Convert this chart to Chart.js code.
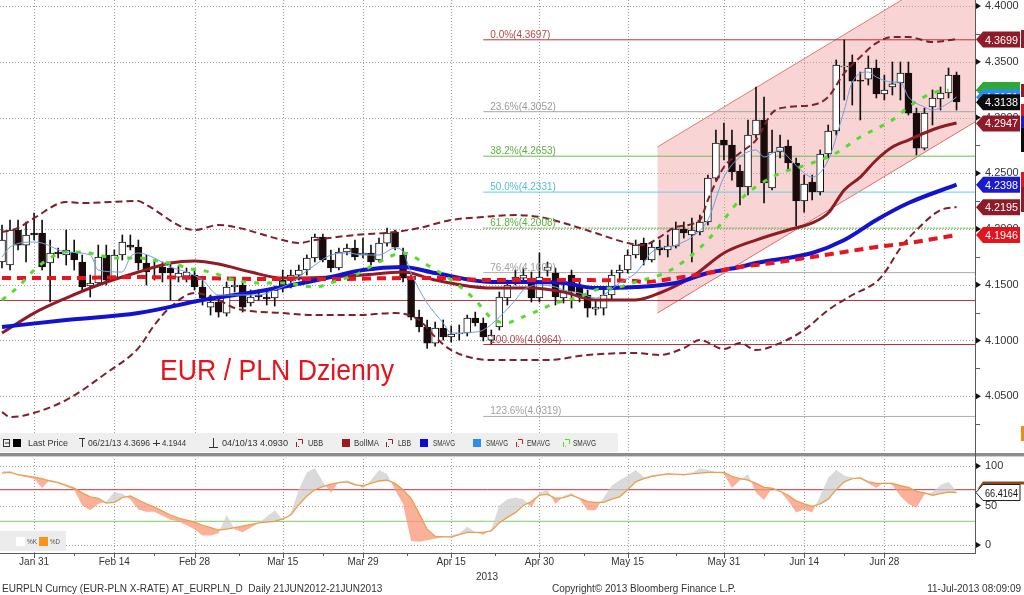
<!DOCTYPE html>
<html>
<head>
<meta charset="utf-8">
<script src="https://cdn.jsdelivr.net/npm/chart.js@4.4.1/dist/chart.umd.min.js"></script>
<style>
  html, body { margin: 0; padding: 0; background: #fff; }
  #wrap { width: 1024px; height: 595px; }
</style>
</head>
<body>
<div id="wrap"><canvas id="chart" width="1024" height="595"></canvas></div>
<script>
// EUR/PLN daily, Jan 25 - Jul 11 2013
const dateTickIdx = [4, 14, 24, 35, 45, 56, 67, 78, 90, 100, 110];
const dateTickLabels = ['Jan 31', 'Feb 14', 'Feb 28', 'Mar 15', 'Mar 29', 'Apr 15', 'Apr 30', 'May 15', 'May 31', 'Jun 14', 'Jun 28'];
const priceTicks = [4.05, 4.10, 4.15, 4.20, 4.25, 4.30, 4.35, 4.40];
const stochTicks = [0, 50, 100];

const opens = [
  4.1704, 4.1677, 4.1991, 4.1856, 4.1964, 4.1964, 4.1695, 4.1794, 4.1767, 4.1794,
  4.1704, 4.1489, 4.1516, 4.1767, 4.1569, 4.1767, 4.1856, 4.1838, 4.1695, 4.1650,
  4.1659, 4.1650, 4.1569, 4.1578, 4.1587, 4.1480, 4.1300, 4.1345, 4.1246, 4.1480,
  4.1498, 4.1336, 4.1408, 4.1390, 4.1381, 4.1542, 4.1542, 4.1587, 4.1632, 4.1740,
  4.1928, 4.1722, 4.1650, 4.1794, 4.1829, 4.1767, 4.1785, 4.1722, 4.1874, 4.1973,
  4.1767, 4.1560, 4.1210, 4.1121, 4.0977, 4.1112, 4.1031, 4.1058, 4.1067, 4.1202,
  4.1157, 4.1004, 4.1121, 4.1381, 4.1542, 4.1560, 4.1560, 4.1381, 4.1623, 4.1605,
  4.1381, 4.1587, 4.1480, 4.1408, 4.1282, 4.1291, 4.1408, 4.1605, 4.1632, 4.1767,
  4.1874, 4.1722, 4.1838, 4.1812, 4.1847, 4.2000, 4.1946, 4.1973, 4.2063, 4.2457,
  4.2798, 4.2753, 4.2520, 4.2377, 4.2843, 4.2978, 4.2368, 4.2691, 4.2744, 4.2592,
  4.2251, 4.2422, 4.2332, 4.2673, 4.2879, 4.3453, 4.3498, 4.3336, 4.3345, 4.3444,
  4.3211, 4.3274, 4.3310, 4.3399, 4.3040, 4.2726, 4.3094, 4.3166, 4.3220, 4.3381
];
const highs = [
  4.2036, 4.2081, 4.2081, 4.2063, 4.2143, 4.2081, 4.1901, 4.1829, 4.1991, 4.1901,
  4.1767, 4.1587, 4.1856, 4.1856, 4.1812, 4.1946, 4.1946, 4.1901, 4.1767, 4.1722,
  4.1704, 4.1704, 4.1668, 4.1650, 4.1632, 4.1542, 4.1408, 4.1399, 4.1525, 4.1542,
  4.1516, 4.1453, 4.1453, 4.1435, 4.1489, 4.1632, 4.1632, 4.1677, 4.1767, 4.1955,
  4.1955, 4.1812, 4.1829, 4.1865, 4.1901, 4.1919, 4.1856, 4.1919, 4.2009, 4.1991,
  4.1829, 4.1587, 4.1273, 4.1184, 4.1166, 4.1184, 4.1130, 4.1139, 4.1228, 4.1255,
  4.1202, 4.1094, 4.1435, 4.1542, 4.1632, 4.1650, 4.1614, 4.1785, 4.1704, 4.1650,
  4.1498, 4.1632, 4.1525, 4.1453, 4.1363, 4.1453, 4.1632, 4.1677, 4.1812, 4.1901,
  4.1919, 4.1883, 4.1901, 4.1946, 4.2063, 4.2063, 4.2098, 4.2125, 4.2484, 4.2888,
  4.2951, 4.2888, 4.2574, 4.2978, 4.3274, 4.3184, 4.2888, 4.2843, 4.2798, 4.2637,
  4.2484, 4.2484, 4.2709, 4.2933, 4.3516, 4.3696, 4.3561, 4.3408, 4.3552, 4.3516,
  4.3381, 4.3498, 4.3498, 4.3498, 4.3085, 4.3085, 4.3247, 4.3274, 4.3444, 4.3408
];
const lows = [
  4.1650, 4.1632, 4.1812, 4.1704, 4.1901, 4.1632, 4.1345, 4.1740, 4.1677, 4.1632,
  4.1453, 4.1390, 4.1498, 4.1498, 4.1542, 4.1722, 4.1812, 4.1632, 4.1498, 4.1542,
  4.1525, 4.1363, 4.1525, 4.1525, 4.1453, 4.1318, 4.1228, 4.1210, 4.1219, 4.1435,
  4.1255, 4.1309, 4.1363, 4.1318, 4.1309, 4.1435, 4.1471, 4.1542, 4.1587, 4.1704,
  4.1704, 4.1614, 4.1632, 4.1767, 4.1722, 4.1740, 4.1677, 4.1704, 4.1847, 4.1812,
  4.1525, 4.1184, 4.1076, 4.0930, 4.0950, 4.1004, 4.0986, 4.1004, 4.1040, 4.1130,
  4.0995, 4.0968, 4.1094, 4.1318, 4.1498, 4.1525, 4.1345, 4.1345, 4.1578, 4.1318,
  4.1336, 4.1291, 4.1345, 4.1210, 4.1228, 4.1228, 4.1363, 4.1525, 4.1605, 4.1740,
  4.1677, 4.1704, 4.1767, 4.1749, 4.1829, 4.1919, 4.1704, 4.1946, 4.2036, 4.2439,
  4.2619, 4.2439, 4.2215, 4.2305, 4.2816, 4.2233, 4.2350, 4.2637, 4.2529, 4.2027,
  4.2152, 4.2260, 4.2305, 4.2637, 4.2843, 4.3157, 4.3112, 4.2978, 4.3292, 4.3175,
  4.3157, 4.3202, 4.3157, 4.3022, 4.2664, 4.2709, 4.2933, 4.3067, 4.3175, 4.3067
];
const closes = [
  4.1901, 4.1991, 4.1856, 4.1946, 4.1946, 4.1659, 4.1785, 4.1776, 4.1812, 4.1722,
  4.1480, 4.1516, 4.1749, 4.1542, 4.1767, 4.1883, 4.1838, 4.1695, 4.1614, 4.1659,
  4.1605, 4.1605, 4.1605, 4.1614, 4.1480, 4.1381, 4.1345, 4.1255, 4.1480, 4.1498,
  4.1300, 4.1390, 4.1390, 4.1372, 4.1453, 4.1471, 4.1587, 4.1632, 4.1740, 4.1928,
  4.1722, 4.1650, 4.1794, 4.1829, 4.1749, 4.1785, 4.1704, 4.1874, 4.1964, 4.1838,
  4.1560, 4.1210, 4.1121, 4.0977, 4.1112, 4.1031, 4.1058, 4.1067, 4.1202, 4.1157,
  4.1031, 4.1049, 4.1390, 4.1498, 4.1569, 4.1587, 4.1381, 4.1569, 4.1659, 4.1390,
  4.1435, 4.1435, 4.1390, 4.1291, 4.1300, 4.1408, 4.1587, 4.1632, 4.1767, 4.1856,
  4.1722, 4.1838, 4.1812, 4.1847, 4.2000, 4.1964, 4.1991, 4.2063, 4.2457, 4.2771,
  4.2753, 4.2511, 4.2377, 4.2843, 4.2978, 4.2413, 4.2691, 4.2735, 4.2592, 4.2251,
  4.2404, 4.2332, 4.2673, 4.2879, 4.3471, 4.3462, 4.3327, 4.3327, 4.3444, 4.3211,
  4.3247, 4.3301, 4.3399, 4.3040, 4.2726, 4.3040, 4.3175, 4.3220, 4.3381, 4.3139
];

// indicators (sparse readings: day index -> value)
const ubbIdx = [0, 2, 4, 8, 10, 17, 18, 24, 27, 29, 35, 37, 39, 44, 49, 52, 56, 60, 64, 67, 70, 74, 78, 80, 82, 84, 87, 88, 90, 92, 94, 96, 98, 101, 103, 105, 107, 109, 111, 113, 116, 119];
const ubbVal = [4.1973, 4.2009, 4.2098, 4.2242, 4.2233, 4.2251, 4.2215, 4.1991, 4.2036, 4.2018, 4.1901, 4.1874, 4.1901, 4.1946, 4.1973, 4.2009, 4.2081, 4.2108, 4.2125, 4.2108, 4.2054, 4.1964, 4.1874, 4.1856, 4.1928, 4.2018, 4.2081, 4.2260, 4.2556, 4.2682, 4.2798, 4.3040, 4.3094, 4.3112, 4.3184, 4.3399, 4.3543, 4.3668, 4.3722, 4.3722, 4.3677, 4.3704];
const lbbIdx = [0, 1, 3, 8, 13, 17, 19, 21, 24, 27, 29, 35, 39, 44, 49, 52, 54, 56, 61, 68, 73, 79, 82, 85, 87, 90, 92, 94, 97, 100, 103, 106, 109, 110, 112, 114, 117, 119];
const lbbVal = [4.0358, 4.0314, 4.0331, 4.0466, 4.0708, 4.0932, 4.1139, 4.1300, 4.1426, 4.1363, 4.1291, 4.1246, 4.1228, 4.1228, 4.1246, 4.1184, 4.1031, 4.0914, 4.0825, 4.0825, 4.0870, 4.0888, 4.0870, 4.0932, 4.1004, 4.0923, 4.0977, 4.0914, 4.0977, 4.1094, 4.1273, 4.1408, 4.1525, 4.1605, 4.1829, 4.1991, 4.2170, 4.2197];
const bollIdx = [0, 4, 8, 12, 17, 21, 24, 27, 31, 35, 37, 41, 45, 50, 54, 61, 66, 70, 74, 79, 82, 86, 90, 94, 98, 101, 103, 105, 107, 109, 111, 113, 115, 117, 119];
const bollVal = [4.1067, 4.1246, 4.1381, 4.1498, 4.1614, 4.1695, 4.1713, 4.1686, 4.1614, 4.1560, 4.1560, 4.1569, 4.1587, 4.1614, 4.1542, 4.1471, 4.1471, 4.1435, 4.1363, 4.1363, 4.1426, 4.1569, 4.1785, 4.1901, 4.1991, 4.2054, 4.2143, 4.2350, 4.2466, 4.2619, 4.2735, 4.2798, 4.2861, 4.2915, 4.2951];
const smaSlowIdx = [0, 8, 17, 25, 33, 41, 45, 50, 54, 61, 66, 70, 74, 79, 84, 88, 92, 94, 101, 105, 109, 113, 119];
const smaSlowVal = [4.1121, 4.1184, 4.1246, 4.1363, 4.1453, 4.1569, 4.1632, 4.1659, 4.1605, 4.1525, 4.1525, 4.1516, 4.1471, 4.1480, 4.1516, 4.1605, 4.1659, 4.1695, 4.1785, 4.1901, 4.2081, 4.2233, 4.2398];
const emaIdx = [0, 8, 17, 25, 33, 41, 50, 54, 61, 70, 79, 80, 84, 88, 92, 96, 101, 105, 109, 113, 119];
const emaVal = [4.1560, 4.1560, 4.1569, 4.1560, 4.1551, 4.1551, 4.1560, 4.1560, 4.1542, 4.1542, 4.1533, 4.1525, 4.1560, 4.1605, 4.1659, 4.1695, 4.1749, 4.1794, 4.1838, 4.1874, 4.1946];
const smaFastIdx = [0, 1, 4, 5, 8, 11, 12, 15, 16, 17, 19, 21, 23, 25, 27, 29, 32, 34, 36, 37, 39, 41, 43, 45, 47, 49, 50, 51, 53, 55, 56, 59, 60, 62, 64, 65, 67, 69, 70, 72, 74, 75, 77, 79, 80, 81, 84, 86, 88, 90, 92, 94, 95, 97, 98, 100, 101, 103, 105, 106, 108, 109, 111, 112, 113, 115, 116, 118, 119];
const smaFastVal = [4.1749, 4.1838, 4.1883, 4.1874, 4.1794, 4.1767, 4.1632, 4.1614, 4.1749, 4.1785, 4.1740, 4.1659, 4.1614, 4.1542, 4.1408, 4.1408, 4.1408, 4.1453, 4.1516, 4.1569, 4.1677, 4.1767, 4.1785, 4.1767, 4.1767, 4.1829, 4.1794, 4.1605, 4.1336, 4.1157, 4.1067, 4.1076, 4.1094, 4.1210, 4.1363, 4.1453, 4.1498, 4.1480, 4.1453, 4.1426, 4.1381, 4.1408, 4.1516, 4.1605, 4.1695, 4.1794, 4.1856, 4.1928, 4.2081, 4.2466, 4.2646, 4.2709, 4.2646, 4.2709, 4.2646, 4.2502, 4.2466, 4.2619, 4.3067, 4.3318, 4.3408, 4.3363, 4.3318, 4.3318, 4.3184, 4.3094, 4.3067, 4.3130, 4.3184];
const smaMidIdx = [0, 2, 4, 6, 8, 10, 12, 14, 17, 20, 22, 23, 26, 29, 32, 35, 39, 42, 44, 47, 50, 53, 56, 59, 61, 63, 64, 67, 69, 72, 74, 77, 79, 82, 84, 88, 92, 96, 101, 104, 107, 111, 113, 116, 118];
const smaMidVal = [4.1363, 4.1480, 4.1632, 4.1740, 4.1794, 4.1794, 4.1767, 4.1740, 4.1740, 4.1704, 4.1677, 4.1650, 4.1614, 4.1542, 4.1516, 4.1516, 4.1480, 4.1542, 4.1587, 4.1704, 4.1785, 4.1677, 4.1542, 4.1363, 4.1202, 4.1157, 4.1184, 4.1273, 4.1336, 4.1390, 4.1453, 4.1480, 4.1525, 4.1587, 4.1659, 4.1901, 4.2260, 4.2466, 4.2592, 4.2682, 4.2825, 4.2978, 4.3094, 4.3220, 4.3247];

// trend channel drawn on the screen (day index, price)
const channelX = [81.7, 121.3];
const channelTop = [4.2735, 4.4449];
const channelBottom = [4.1246, 4.2960];

// fibonacci retracement 4.3697 -> 4.0964
const fibPct = ['0.0%', '23.6%', '38.2%', '50.0%', '61.8%', '76.4%', '100.0%', '123.6%'];
const fibLevels = [4.3697, 4.3052, 4.2653, 4.2331, 4.2008, 4.1609, 4.0964, 4.0319];
const fibStart = 60;
const supportLevels = [4.1359];

// right side value tags
const priceTags = [4.3699, 4.3247, 4.3181, 4.3138, 4.2947, 4.2398, 4.2195, 4.1946];
const stochTag = 66.4164;

// slow stochastic
const stochIdx = [0, 1, 2, 4, 5, 6, 7, 9, 10, 11, 12, 13, 14, 15, 16, 17, 18, 19, 21, 22, 24, 25, 26, 27, 28, 29, 30, 32, 34, 35, 36, 37, 38, 39, 40, 41, 42, 43, 44, 45, 46, 47, 48, 49, 50, 51, 52, 53, 54, 56, 57, 58, 59, 60, 61, 62, 63, 64, 65, 66, 67, 68, 69, 70, 71, 72, 73, 74, 75, 76, 77, 78, 79, 80, 81, 83, 85, 86, 87, 88, 90, 91, 92, 93, 94, 95, 96, 97, 98, 99, 100, 101, 102, 103, 104, 105, 106, 107, 108, 109, 110, 111, 112, 113, 114, 115, 116, 117, 118, 119];
const stochD = [91, 92, 89, 86, 84, 81, 79, 72, 66, 61, 59, 53, 54, 60, 62, 57, 52, 48, 38, 34, 29, 25, 22, 19, 20, 22, 24, 28, 30, 33, 38, 51, 62, 70, 74, 77, 79, 80, 76, 75, 78, 81, 82, 78, 70, 59, 40, 20, 11, 10, 13, 16, 16, 16, 18, 28, 35, 41, 50, 55, 63, 64, 59, 60, 63, 59, 55, 54, 54, 58, 61, 70, 80, 84, 87, 90, 89, 90, 91, 92, 92, 87, 84, 82, 78, 73, 72, 68, 63, 56, 52, 49, 52, 58, 70, 80, 84, 85, 80, 78, 78, 78, 75, 73, 68, 66, 63, 65, 67, 66.4];
const stochK = [93, 94, 88, 84, 72, 83, 78, 70, 50, 44, 52, 55, 67, 65, 58, 45, 42, 42, 32, 30, 20, 12, 12, 15, 38, 20, 16, 28, 44, 32, 40, 70, 92, 97, 80, 66, 80, 82, 78, 72, 82, 95, 90, 70, 52, 5, 4, 6, 8, 12, 15, 23, 16, 13, 20, 50, 58, 60, 58, 47, 66, 70, 52, 62, 66, 58, 44, 44, 60, 75, 82, 88, 95, 86, 86, 91, 88, 91, 97, 95, 90, 72, 82, 90, 66, 57, 72, 68, 56, 41, 45, 41, 62, 85, 95, 88, 85, 84, 78, 72, 80, 76, 62, 52, 47, 64, 67, 76, 80, 68];
const stochLevels = [70, 30];

const X_MIN = -0.25, X_MAX = 121.3;
const FONT = '"Liberation Sans", Arial, sans-serif';
Chart.defaults.font.family = FONT;

function pts(xs, ys) { return xs.map((v, k) => ({ x: v, y: ys[k] })); }
function hline(v) { return [{ x: X_MIN, y: v }, { x: X_MAX, y: v }]; }

const fibLineColors = ['#b8323c', '#a6a6a6', '#6cbf4a', '#5fd0dc', '#4cb030', '#acacac', '#b8323c', '#acacac'];
const fibTextColors = ['#b8464c', '#9a9a9a', '#5fae45', '#52bfcc', '#5fae45', '#a0a0a0', '#b8464c', '#a0a0a0'];

const datasets = [];
// channel
datasets.push({ type: 'line', yAxisID: 'y', data: pts(channelX, channelTop), borderColor: '#e06a6a', borderWidth: 1, fill: false, order: 95 });
datasets.push({ type: 'line', yAxisID: 'y', data: pts(channelX, channelBottom), borderColor: '#e06a6a', borderWidth: 1,
  fill: { target: '-1', above: 'rgba(242,160,160,0.45)', below: 'rgba(242,160,160,0.45)' }, order: 94 });
// horizontal levels
supportLevels.forEach(v => datasets.push({ type: 'line', yAxisID: 'y', data: hline(v), borderColor: '#b8323c', borderWidth: 1, order: 90 }));
fibLevels.forEach((v, k) => datasets.push({ type: 'line', yAxisID: 'y', data: [{ x: fibStart, y: v }, { x: X_MAX, y: v }],
  borderColor: fibLineColors[k], borderWidth: 1, borderDash: k === 4 ? [2, 1] : [], order: 85 }));
// candles
const candleIdx = closes.map((c, i) => i);
datasets.push({ type: 'bar', yAxisID: 'y', grouped: false, barThickness: 1, backgroundColor: '#111',
  data: candleIdx.map(i => ({ x: i, y: [lows[i], highs[i]] })), order: 61 });
datasets.push({ type: 'bar', yAxisID: 'y', grouped: false, barThickness: 7, borderWidth: 1, borderColor: '#111', borderSkipped: false,
  backgroundColor: candleIdx.map(i => closes[i] >= opens[i] ? '#ffffff' : '#1c0a0a'),
  data: candleIdx.map(i => ({ x: i, y: [opens[i], closes[i]] })), order: 60 });
// studies
const lineBase = { type: 'line', yAxisID: 'y', fill: false, cubicInterpolationMode: 'monotone' };
datasets.push({ ...lineBase, data: pts(ubbIdx, ubbVal), borderColor: '#7d1f2c', borderWidth: 2, borderDash: [7, 4], order: 30 });
datasets.push({ ...lineBase, data: pts(lbbIdx, lbbVal), borderColor: '#7d1f2c', borderWidth: 2, borderDash: [7, 4], order: 30 });
datasets.push({ ...lineBase, data: pts(bollIdx, bollVal), borderColor: '#8e1c22', borderWidth: 3, order: 28 });
datasets.push({ ...lineBase, data: pts(smaSlowIdx, smaSlowVal), borderColor: '#1212d0', borderWidth: 4, order: 26 });
datasets.push({ ...lineBase, data: pts(emaIdx, emaVal), borderColor: '#e8141e', borderWidth: 4, borderDash: [9, 6], order: 24 });
datasets.push({ ...lineBase, data: pts(smaMidIdx, smaMidVal), borderColor: '#55dd2a', borderWidth: 3, borderDash: [5, 8], order: 22 });
datasets.push({ ...lineBase, data: pts(smaFastIdx, smaFastVal), borderColor: '#6f9fe0', borderWidth: 1, order: 20 });
// stochastic pane
datasets.push({ type: 'line', yAxisID: 'y2', data: hline(stochLevels[0]), borderColor: '#c8303c', borderWidth: 1, order: 50 });
datasets.push({ type: 'line', yAxisID: 'y2', data: hline(stochLevels[1]), borderColor: '#7ccc66', borderWidth: 1, order: 50 });
datasets.push({ type: 'line', yAxisID: 'y2', data: pts(stochIdx, stochD), borderColor: '#e8a050', borderWidth: 1.3, order: 40 });
datasets.push({ type: 'line', yAxisID: 'y2', data: pts(stochIdx, stochK), borderWidth: 0, borderColor: 'rgba(0,0,0,0)',
  fill: { target: '-1', above: 'rgba(205,205,205,0.75)', below: 'rgba(250,150,120,0.75)' }, order: 45 });

function tri(ctx, x, y) {
  ctx.beginPath(); ctx.moveTo(x, y - 3); ctx.lineTo(x + 5, y); ctx.lineTo(x, y + 3); ctx.closePath(); ctx.fill();
}

function drawTag(ctx, yc, text, bg, fg, stroke) {
  const h = 8;
  ctx.beginPath();
  ctx.moveTo(976, yc); ctx.lineTo(983, yc - h); ctx.lineTo(1020, yc - h); ctx.lineTo(1020, yc + h); ctx.lineTo(983, yc + h); ctx.closePath();
  ctx.fillStyle = bg; ctx.fill();
  if (stroke) { ctx.strokeStyle = stroke; ctx.lineWidth = 1; ctx.stroke(); }
  if (!text) return;
  ctx.fillStyle = fg;
  ctx.font = '11px ' + FONT;
  ctx.textBaseline = 'middle';
  ctx.textAlign = 'left';
  ctx.fillText(text, 985, yc + 1, 33);
}

function legendIcon(ctx, x, y, color) {
  // small bracket glyph used by Bloomberg for line studies
  ctx.strokeStyle = color; ctx.lineWidth = 1;
  ctx.beginPath();
  ctx.moveTo(x + 0.5, y + 4); ctx.lineTo(x + 0.5, y - 1);
  ctx.moveTo(x + 2, y - 3.5); ctx.lineTo(x + 6.5, y - 3.5); ctx.lineTo(x + 6.5, y + 1);
  ctx.moveTo(x + 2, y + 3.5); ctx.lineTo(x + 3, y + 3.5);
  ctx.stroke();
}

// keep the panes flush with the canvas edges
function noPad(s) { s.paddingTop = 0; s.paddingBottom = 0; s.paddingLeft = 0; s.paddingRight = 0; }

const decor = {
  id: 'decor',
  beforeDatasetsDraw(chart) {
    const { ctx, chartArea: a } = chart;
    const { x, y, y2 } = chart.scales;
    ctx.save();
    ctx.strokeStyle = '#9c9c9c';
    ctx.lineWidth = 1;
    ctx.setLineDash([1, 2]);
    ctx.beginPath();
    dateTickIdx.forEach(i => {
      const px = Math.round(x.getPixelForValue(i)) + 0.5;
      ctx.moveTo(px, a.top); ctx.lineTo(px, a.bottom);
    });
    priceTicks.forEach(v => {
      const py = Math.round(y.getPixelForValue(v)) + 0.5;
      ctx.moveTo(a.left, py); ctx.lineTo(a.right, py);
    });
    stochTicks.forEach(v => {
      const py = Math.round(y2.getPixelForValue(v)) + 0.5;
      ctx.moveTo(a.left, py); ctx.lineTo(a.right, py);
    });
    ctx.stroke();
    ctx.restore();
  },
  afterDraw(chart) {
    const { ctx, chartArea: a } = chart;
    const { x, y, y2 } = chart.scales;
    ctx.save();

    // fibonacci labels
    ctx.font = '10px ' + FONT;
    ctx.textBaseline = 'alphabetic';
    ctx.textAlign = 'left';
    const fx = x.getPixelForValue(fibStart) + 7;
    fibLevels.forEach((v, k) => {
      ctx.fillStyle = fibTextColors[k];
      ctx.fillText(fibPct[k] + '(' + v.toFixed(4) + ')', fx, y.getPixelForValue(v) - 2);
    });

    // title
    ctx.fillStyle = '#e3141e';
    ctx.font = '30px ' + FONT;
    ctx.fillText('EUR / PLN Dzienny', 160, 380, 234);

    // legend row of the price pane
    ctx.fillStyle = '#efefef';
    ctx.fillRect(0, 433, 618, 19);
    const cy = 443;
    ctx.strokeStyle = '#333'; ctx.lineWidth = 1;
    ctx.strokeRect(3.5, cy - 3.5, 6, 7);
    ctx.beginPath(); ctx.moveTo(5, cy); ctx.lineTo(9, cy); ctx.stroke();
    ctx.fillStyle = '#000'; ctx.fillRect(13, cy - 4, 8, 8);
    ctx.font = '9.5px ' + FONT;
    ctx.textBaseline = 'middle';
    ctx.fillStyle = '#333';
    ctx.fillText('Last Price', 28, cy, 40);
    ctx.beginPath(); ctx.moveTo(79, cy - 4.5); ctx.lineTo(85, cy - 4.5); ctx.moveTo(82.5, cy - 4.5); ctx.lineTo(82.5, cy + 4); ctx.stroke();
    ctx.fillText('06/21/13 4.3696', 88, cy, 62);
    ctx.beginPath(); ctx.moveTo(153, cy + 0.5); ctx.lineTo(160, cy + 0.5); ctx.moveTo(156.5, cy - 3); ctx.lineTo(156.5, cy + 3); ctx.stroke();
    ctx.fillText('4.1944', 162, cy, 24);
    ctx.beginPath(); ctx.moveTo(213.5, cy - 5); ctx.lineTo(213.5, cy + 4); ctx.moveTo(209, cy + 4.5); ctx.lineTo(218, cy + 4.5); ctx.stroke();
    ctx.fillText('04/10/13 4.0930', 222, cy, 66);
    legendIcon(ctx, 296, cy, '#8e1c22');
    ctx.fillStyle = '#333'; ctx.fillText('UBB', 308, cy, 15);
    ctx.fillStyle = '#9b1b22'; ctx.fillRect(342, cy - 4, 8, 8);
    ctx.fillStyle = '#333'; ctx.fillText('BollMA', 354, cy, 25);
    legendIcon(ctx, 386, cy, '#8e1c22');
    ctx.fillStyle = '#333'; ctx.fillText('LBB', 398, cy, 13);
    ctx.fillStyle = '#0a0ad0'; ctx.fillRect(420, cy - 4, 8, 8);
    ctx.fillStyle = '#333'; ctx.fillText('SMAVG', 433, cy, 22);
    ctx.fillStyle = '#2d8cf0'; ctx.fillRect(473, cy - 4, 8, 8);
    ctx.fillStyle = '#333'; ctx.fillText('SMAVG', 486, cy, 22);
    legendIcon(ctx, 516, cy, '#e8141e');
    ctx.fillStyle = '#333'; ctx.fillText('EMAVG', 527, cy, 23);
    legendIcon(ctx, 563, cy, '#55dd2a');
    ctx.fillStyle = '#333'; ctx.fillText('SMAVG', 573, cy, 23);

    // pane separator
    ctx.fillStyle = '#8c8c8c';
    ctx.fillRect(0, 453, 1024, 3);
    ctx.fillStyle = '#cfcfcf';
    ctx.fillRect(0, 456, 1024, 1);

    // axis lines
    ctx.strokeStyle = '#5a5a5a'; ctx.lineWidth = 1;
    ctx.beginPath();
    ctx.moveTo(975.5, 0); ctx.lineTo(975.5, a.bottom);
    ctx.moveTo(0, a.bottom + 0.5); ctx.lineTo(976, a.bottom + 0.5);
    ctx.stroke();

    // axis markers
    ctx.fillStyle = '#111';
    priceTicks.forEach(v => tri(ctx, 976, y.getPixelForValue(v)));
    stochTicks.forEach(v => tri(ctx, 976, y2.getPixelForValue(v)));
    ctx.beginPath();
    const step = priceTicks[1] - priceTicks[0];
    priceTicks.forEach(v => {
      const py = Math.round(y.getPixelForValue(v - step / 2)) + 0.5;
      ctx.moveTo(976, py); ctx.lineTo(980, py);
    });
    dateTickIdx.forEach((i, k) => {
      const px = Math.round(x.getPixelForValue(i)) + 0.5;
      ctx.moveTo(px, a.bottom); ctx.lineTo(px, a.bottom + 5);
      if (k < dateTickIdx.length - 1) {
        const pm = Math.round(x.getPixelForValue((i + dateTickIdx[k + 1]) / 2)) + 0.5;
        ctx.moveTo(pm, a.bottom); ctx.lineTo(pm, a.bottom + 3);
      }
    });
    ctx.stroke();

    // value tags on the right (the green and blue ones sit mostly under the black last-price tag)
    const tagStyles = [
      ['#8e1b27', '#fff', true], ['#2ea836', '#fff', false], ['#2d8cf0', '#fff', true], ['#0c0c0c', '#fff', true],
      ['#8e1b27', '#fff', true], ['#1a1ad0', '#fff', true], ['#8e1b27', '#fff', true], ['#e3141e', '#fff', true]
    ];
    priceTags.forEach((v, k) => drawTag(ctx, y.getPixelForValue(v), tagStyles[k][2] ? v.toFixed(4) : '', tagStyles[k][0], tagStyles[k][1]));
    // edges of the neighbouring column's tags
    const edge = [[30, 48, '#8e1b27'], [84, 97, '#8e1b27'], [104, 116, '#e3141e'], [116, 128, '#1a1ad0'], [128, 152, '#0c0c0c'], [172, 187, '#e3141e'], [187, 212, '#8e1b27'], [426, 441, '#f08a1e']];
    edge.forEach(e => { ctx.fillStyle = e[2]; ctx.fillRect(1021, e[0], 3, e[1] - e[0]); });

    // stochastic tags
    const sy = y2.getPixelForValue(stochTag);
    ctx.fillStyle = '#8b4a1c';
    ctx.fillRect(983, sy - 11, 41, 3);
    ctx.beginPath(); ctx.moveTo(977, sy - 3); ctx.lineTo(983, sy - 11); ctx.lineTo(985, sy - 8); ctx.closePath(); ctx.fill();
    drawTag(ctx, sy, stochTag.toFixed(4), '#ffffff', '#111', '#222');

    // stochastic legend
    ctx.fillStyle = '#ececec';
    ctx.fillRect(0, 531, 66, 20);
    ctx.fillStyle = '#ffffff';
    ctx.fillRect(16, 537, 9, 9);
    ctx.fillStyle = '#f7941d';
    ctx.fillRect(39, 537, 9, 9);
    ctx.fillStyle = '#555';
    ctx.font = '8px ' + FONT;
    ctx.textBaseline = 'middle';
    ctx.fillText('%K', 27, 542, 10);
    ctx.fillText('%D', 50, 542, 10);

    // year and footer
    ctx.fillStyle = '#333';
    ctx.font = '10px ' + FONT;
    ctx.textBaseline = 'alphabetic';
    ctx.textAlign = 'center';
    ctx.fillText('2013', 487, 580);
    ctx.textAlign = 'left';
    ctx.fillText('EURPLN Curncy (EUR-PLN X-RATE) AT_EURPLN_D  Daily 21JUN2012-21JUN2013', 2, 592, 384);
    ctx.fillText('Copyright\u00a9 2013 Bloomberg Finance L.P.', 552, 592, 196);
    ctx.textAlign = 'right';
    ctx.fillText('11-Jul-2013 08:09:09', 1021, 592, 120);
    ctx.restore();
  }
};

new Chart(document.getElementById('chart'), {
  type: 'line',
  data: { datasets },
  options: {
    responsive: false,
    animation: false,
    devicePixelRatio: 1,
    layout: { padding: 0 },
    elements: { point: { radius: 0 }, line: { tension: 0 } },
    plugins: { legend: { display: false }, tooltip: { enabled: false } },
    scales: {
      x: {
        type: 'linear', min: X_MIN, max: X_MAX, offset: false,
        grid: { display: false, drawTicks: false }, border: { display: false },
        afterBuildTicks: s => { s.ticks = dateTickIdx.map(v => ({ value: v })); },
        afterFit: s => { s.height = 42; noPad(s); },
        ticks: { autoSkip: false, maxRotation: 0, padding: 3, color: '#333', font: { size: 10 },
          callback: (v, i) => dateTickLabels[i] }
      },
      y: {
        type: 'linear', position: 'right', stack: 'panes', stackWeight: 455,
        min: 3.9973, max: 4.4054,
        grid: { display: false, drawTicks: false }, border: { display: false },
        afterBuildTicks: s => { s.ticks = priceTicks.map(v => ({ value: v })); },
        afterFit: s => { s.width = 49; noPad(s); },
        ticks: { autoSkip: false, padding: 10, color: '#333', font: { size: 11 }, callback: v => v.toFixed(4) }
      },
      y2: {
        type: 'linear', position: 'right', stack: 'panes', stackWeight: 98,
        min: -10.1, max: 113.9,
        grid: { display: false, drawTicks: false }, border: { display: false },
        afterBuildTicks: s => { s.ticks = stochTicks.map(v => ({ value: v })); },
        afterFit: s => { s.width = 49; noPad(s); },
        ticks: { autoSkip: false, padding: 10, color: '#333', font: { size: 11 }, callback: v => String(v) }
      }
    }
  },
  plugins: [decor]
});
</script>
</body>
</html>
